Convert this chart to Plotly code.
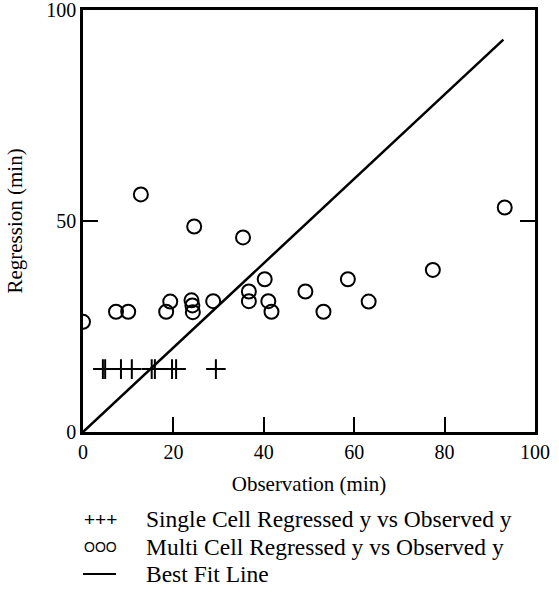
import plotly.graph_objects as go

# Single cell: regressed y vs observed y
single_x = [4.4, 4.9, 8.4, 10.8, 15.2, 15.9, 19.7, 20.6, 29.4]
single_y = [14.9, 14.9, 14.9, 14.9, 14.9, 14.9, 14.9, 14.9, 14.9]

# Multi cell: regressed y vs observed y
multi_x = [0.0, 7.3, 10.0, 12.8, 18.4, 19.3, 24.0, 24.2, 24.3, 24.6, 28.8, 35.4,
           36.7, 36.7, 40.2, 41.0, 41.7, 49.2, 53.2, 58.6, 63.2, 77.4, 93.3]
multi_y = [26.1, 28.5, 28.5, 56.3, 28.5, 30.9, 31.2, 30.0, 28.4, 48.7, 31.0, 46.1,
           33.3, 31.0, 36.2, 31.0, 28.5, 33.3, 28.5, 36.2, 30.9, 38.4, 53.2]

# Best fit line
fit_x = [0, 93]
fit_y = [0, 93]

x_ticks = [0, 20, 40, 60, 80, 100]
y_ticks = [0, 50, 100]

legend_labels = ["Single Cell Regressed y vs Observed y",
                 "Multi Cell Regressed y vs Observed y",
                 "Best Fit Line"]

FONT = "Liberation Serif, Times New Roman, serif"

L, R, T, B = 83, 24, 10, 168
W, H = 559, 600

fig = go.Figure()
fig.add_trace(go.Scatter(x=fit_x, y=fit_y, mode="lines",
                         line=dict(color="black", width=2.5),
                         name=legend_labels[2], showlegend=False))
fig.add_trace(go.Scatter(x=multi_x, y=multi_y, mode="markers",
                         marker=dict(symbol="circle-open", size=14,
                                     color="black", line=dict(width=2)),
                         name=legend_labels[1], showlegend=False))
fig.add_trace(go.Scatter(x=single_x, y=single_y, mode="markers",
                         marker=dict(symbol="cross-thin-open", size=14,
                                     color="black", line=dict(width=2, color="black")),
                         name=legend_labels[0], showlegend=False))

fig.update_layout(
    width=W, height=H,
    margin=dict(l=L, r=R, t=T, b=B, autoexpand=False),
    paper_bgcolor="white", plot_bgcolor="white",
    font=dict(family=FONT, size=20, color="black"),
    showlegend=False,
)
fig.update_xaxes(range=[0, 100], tickvals=x_ticks, ticktext=[str(v) for v in x_ticks],
                 showgrid=False, zeroline=False, showline=True, linecolor="black",
                 linewidth=2.5, mirror=True, ticks="inside", ticklen=15, tickwidth=2,
                 tickcolor="black", tickfont=dict(family=FONT, size=20),
                 automargin=False, ticklabeloverflow="allow",
                 title=dict(text="Observation (min)", font=dict(family=FONT, size=21),
                            standoff=15))
fig.update_yaxes(range=[0, 100], tickvals=y_ticks, ticktext=[str(v) for v in y_ticks],
                 showgrid=False, zeroline=False, showline=True, linecolor="black",
                 linewidth=2.5, mirror="ticks", ticks="inside", ticklen=15, tickwidth=2,
                 tickcolor="black", tickfont=dict(family=FONT, size=20),
                 automargin=True, ticklabeloverflow="allow",
                 title=dict(text="Regression (min)", font=dict(family=FONT, size=21),
                            standoff=18))

# Custom legend below the plot
plot_w = W - L - R
plot_h = H - T - B
def px_to_paper(px, py):
    return (px - L) / plot_w, (H - B - py) / plot_h

rows_y = [519, 546.5, 574]
sym_texts = ["+++", "OOO"]
sym_sizes = [19, 14]
for i, lab in enumerate(legend_labels):
    tx, ty = px_to_paper(144, rows_y[i])
    fig.add_annotation(x=tx, y=ty, xref="paper", yref="paper", text=lab,
                       showarrow=False, xanchor="left", yanchor="middle",
                       font=dict(family=FONT, size=23.5, color="black"))
for i, s in enumerate(sym_texts):
    sx, sy = px_to_paper(100, rows_y[i])
    fig.add_annotation(x=sx, y=sy, xref="paper", yref="paper", text=s,
                       showarrow=False, xanchor="center", yanchor="middle",
                       font=dict(family="Liberation Sans, Arial, sans-serif",
                                 size=sym_sizes[i], color="black"))
x0, y0 = px_to_paper(83, rows_y[2])
x1, _ = px_to_paper(116, rows_y[2])
fig.add_shape(type="line", xref="paper", yref="paper", x0=x0, x1=x1, y0=y0, y1=y0,
              line=dict(color="black", width=2))

fig.write_html("out.html", config={"displayModeBar": False},
               post_script="document.body.style.margin='0';document.body.style.overflow='hidden';")
